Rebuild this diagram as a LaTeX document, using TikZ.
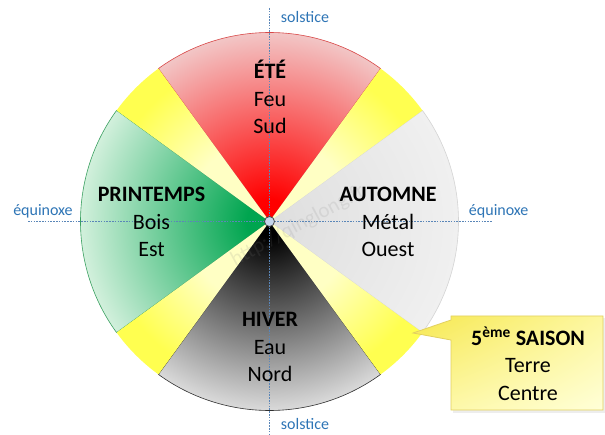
\documentclass[tikz,border=0pt]{standalone}
\usepackage{fontspec}
\setmainfont{Carlito}
\usetikzlibrary{calc,shadings}
\definecolor{axisblue}{HTML}{2E75B6}
\definecolor{dashblue}{HTML}{5A86B8}
\definecolor{redA}{HTML}{FF0000}
\definecolor{redB}{HTML}{F2C6C6}
\definecolor{greenA}{HTML}{00A54F}
\definecolor{greenB}{HTML}{D2F0DC}
\definecolor{blackA}{HTML}{000000}
\definecolor{blackB}{HTML}{DADADA}
\definecolor{greyA}{HTML}{DEDEDE}
\definecolor{greyB}{HTML}{F0F0F0}
\definecolor{yelA}{HTML}{FFFFC4}
\definecolor{yelB}{HTML}{FFFF50}
\definecolor{redline}{HTML}{D84848}
\definecolor{greenline}{HTML}{3AA060}
\definecolor{blackline}{HTML}{303030}
\definecolor{greyline}{HTML}{D4D4D4}
\definecolor{dotfill}{HTML}{C5D5EA}
\definecolor{callUL}{HTML}{F6E850}
\definecolor{callMid}{HTML}{FDF7A0}
\definecolor{callLR}{HTML}{FFFFD8}
\definecolor{callline}{HTML}{E2D060}
\pgfdeclareradialshading{redsh}{\pgfpoint{0bp}{0bp}}{color(0bp)=(redA); color(3bp)=(redA); color(25bp)=(redB); color(50bp)=(redB)}
\pgfdeclareradialshading{greensh}{\pgfpoint{0bp}{0bp}}{color(0bp)=(greenA); color(3bp)=(greenA); color(25bp)=(greenB); color(50bp)=(greenB)}
\pgfdeclareradialshading{blacksh}{\pgfpoint{0bp}{0bp}}{color(0bp)=(blackA); color(2bp)=(blackA); color(25bp)=(blackB); color(50bp)=(blackB)}
\pgfdeclareradialshading{greysh}{\pgfpoint{0bp}{0bp}}{color(0bp)=(greyA); color(25bp)=(greyB); color(50bp)=(greyB)}
\pgfdeclareradialshading{yelsh}{\pgfpoint{0bp}{0bp}}{color(0bp)=(yelA); color(11bp)=(yelA); color(22bp)=(yelB); color(50bp)=(yelB)}
\tikzset{
  season/.style={align=center, font=\fontsize{22}{27.5}\selectfont, inner sep=0pt},
  axislabel/.style={text=axisblue, font=\fontsize{16}{19}\selectfont, inner sep=0pt},
  axisline/.style={dashblue, line width=0.5pt, dash pattern=on 1.6pt off 1.2pt},
  sectoredge/.style={line width=0.6pt}
}
\begin{document}
\begin{tikzpicture}[x=1pt,y=1pt]
\useasboundingbox (0,0) rectangle (605,434);
\fill[white] (0,0) rectangle (605,434);
\coordinate (C) at (269.5,212.5);
\def\R{189}
% sectors
\foreach \a/\b/\sh/\col in {54/126/redsh/redline, 144/216/greensh/greenline, 234/306/blacksh/blackline, -36/36/greysh/greyline}{
  \begin{scope}
    \clip (C) -- ++(\a:\R) arc[start angle=\a, end angle=\b, radius=\R] -- cycle;
    \shade[shading=\sh] (C) circle[radius=\R];
  \end{scope}
  \draw[sectoredge, \col] (C) -- ++(\a:\R) arc[start angle=\a, end angle=\b, radius=\R] -- cycle;
}
\foreach \a/\b in {126/144, 216/234, 306/324, 36/54}{
  \begin{scope}
    \clip (C) -- ++(\a:\R) arc[start angle=\a, end angle=\b, radius=\R] -- cycle;
    \shade[shading=yelsh] (C) circle[radius=\R];
  \end{scope}
}
% watermark
\node[rotate=28.5, text=gray, opacity=0.15, font=\fontsize{21}{21}\selectfont] (wm) at (298,208) {http://qinglong.fr};
% axes
\coordinate (vtop) at (269.5,426);
\coordinate (vbot) at (269.5,0);
\coordinate (hleft) at (28,212.5);
\coordinate (hright) at (492,212.5);
\draw[axisline] (vtop) -- (vbot);
\draw[axisline] (hleft) -- (hright);
\node[circle, draw=gray!60!black, fill=dotfill, minimum size=10pt, inner sep=0pt, line width=0.8pt] (ctr) at (C) {};
% axis labels
\node[axislabel] (soltop) at (305,417) {solstice};
\node[axislabel] (solbot) at (305,10) {solstice};
\node[axislabel] (eqleft) at (43,223) {équinoxe};
\node[axislabel] (eqright) at (498.7,223) {équinoxe};
% season labels
\node[season] (ete) at (270,337) {\textbf{ÉTÉ}\\Feu\\Sud};
\node[season] (printemps) at (151.5,212) {\textbf{PRINTEMPS}\\Bois\\Est};
\node[season] (automne) at (388,212) {\textbf{AUTOMNE}\\Métal\\Ouest};
\node[season] (hiver) at (270,87) {\textbf{HIVER}\\Eau\\Nord};
% callout
\coordinate (tip) at (413,101);
\fill[black, opacity=0.07] (453,116) -- (605,116) -- (605,21) -- (453,21) -- cycle;
\shade[upper left=callUL, upper right=callMid, lower left=callMid, lower right=callLR, draw=callline, line width=0.8pt]
  (451,118) -- (603,118) -- (603,24) -- (451,24) -- (451,94) -- (tip) -- (451,114) -- cycle;
\node[season] (saison) at (528,70) {\textbf{5\textsuperscript{ème} SAISON}\\Terre\\Centre};
\end{tikzpicture}
\end{document}
